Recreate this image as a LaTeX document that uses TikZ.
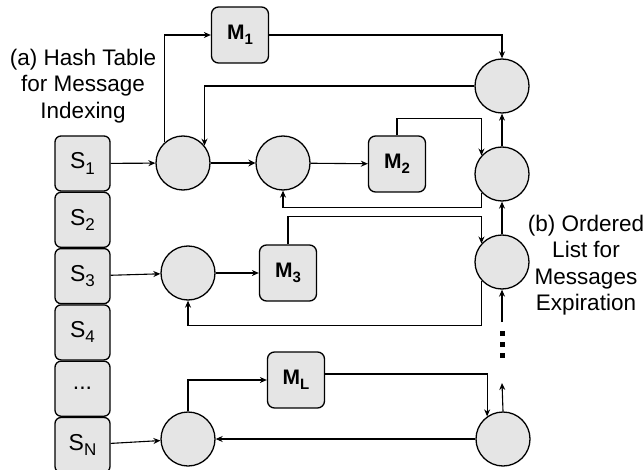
\documentclass[tikz,border=0pt]{standalone}
\usepackage{fontspec}
\setmainfont{Liberation Sans}
\usetikzlibrary{arrows.meta, positioning}
\newcommand{\idx}[2][17]{\raisebox{-0.22em}{\fontsize{#1}{#1}\selectfont #2}}
\tikzset{
  slot/.style = {draw, rounded corners=6pt, fill=gray!20, line width=1.3pt,
    minimum width=55pt, minimum height=55pt, inner sep=0pt,
    font=\fontsize{23}{24}\selectfont},% hash table cell
  msg/.style = {draw, rounded corners=7pt, fill=gray!20, line width=1.3pt,
    minimum width=57pt, minimum height=56pt, inner sep=0pt,
    font=\fontsize{21}{22}\selectfont\bfseries},% message box
  elem/.style = {draw, circle, fill=gray!20, line width=1.3pt,
    minimum size=54pt, inner sep=0pt},% list element
  caption/.style = {align=center, font=\fontsize{22.5}{26.5}\selectfont},
  arr/.style = {line width=1.1pt, -{Stealth[length=7pt, width=6pt]}},
  thickarr/.style = {line width=2.6pt, -{Stealth[length=7pt, width=7pt]}}
}
\begin{document}
\begin{tikzpicture}[x=1pt, y=-1pt]
\useasboundingbox (0,0) rectangle (644,470);
% hash table
\node (s1) [slot] at (82.5,163.5) {S\idx{1}};
\node (s2) [slot, below=0pt of s1] {S\idx{2}};
\node (s3) [slot, below=0pt of s2] {S\idx{3}};
\node (s4) [slot, below=0pt of s3] {S\idx{4}};
\node (sd) [slot, below=0pt of s4] {...};
\node (sn) [slot, below=0pt of sd] {S\idx{N}};
\node (lbla) [caption] at (83,86) {(a) Hash Table\\for Message\\Indexing};
% chains
\node (c11) [elem] at (183,163) {};
\node (c12) [elem] at (283,163) {};
\node (c3) [elem] at (188,273) {};
\node (cn) [elem] at (188,439) {};
\node (m1) [msg] at (240,35) {M\idx[15]{1}};
\node (m2) [msg] at (397,164) {M\idx[15]{2}};
\node (m3) [msg] at (288,273) {M\idx[15]{3}};
\node (ml) [msg] at (296,380) {M\idx[15]{L}};
% ordered list
\node (r1) [elem] at (502,86) {};
\node (r2) [elem] at (502,174) {};
\node (r3) [elem] at (502,262) {};
\node (rn) [elem] at (503,439) {};
\node (lblb) [caption] at (586,265) {(b) Ordered\\List for\\Messages\\Expiration};
\coordinate (dtop) at (502,322);
\coordinate (dbot) at (502,383);
\fill (500,336) rectangle ++(5,-5);
\fill (500,347) rectangle ++(5,-5);
\fill (500,358) rectangle ++(5,-5);

\draw[arr] (s1) -- (c11);
\draw[arr] (c11.132) |- (m1.west);
\draw[arr] (m1.east) -| (r1.north);
\draw[arr] (r1.west) -| (c11.39);
\draw[thickarr] (c11) -- (c12);
\draw[arr] (c12) -- (m2);
\draw[arr] (m2.north) -- ++(0,-17) -| (r2.138);
\draw[arr] (r2.222) -- ++(0,15) -| (c12.south);
\draw[arr] (r2) -- (r1);
\draw[arr] (r3) -- (r2);
\draw[arr] (s3) -- (c3);
\draw[arr] (c3) -- (m3);
\draw[arr] (m3.north) -- ++(0,-28) -| (r3.138);
\draw[arr] (r3.222) -- ++(0,45) -| (c3.south);
\draw[arr] (dtop) -- (r3.south);
\draw[arr] (rn.north) -- (dbot);
\draw[arr] ([yshift=6pt]ml.east) -| (rn.125);
\draw[arr] (rn) -- (cn);
\draw[arr] (cn.north) |- (ml.west);
\draw[arr] (sn) -- (cn);
\end{tikzpicture}
\end{document}
